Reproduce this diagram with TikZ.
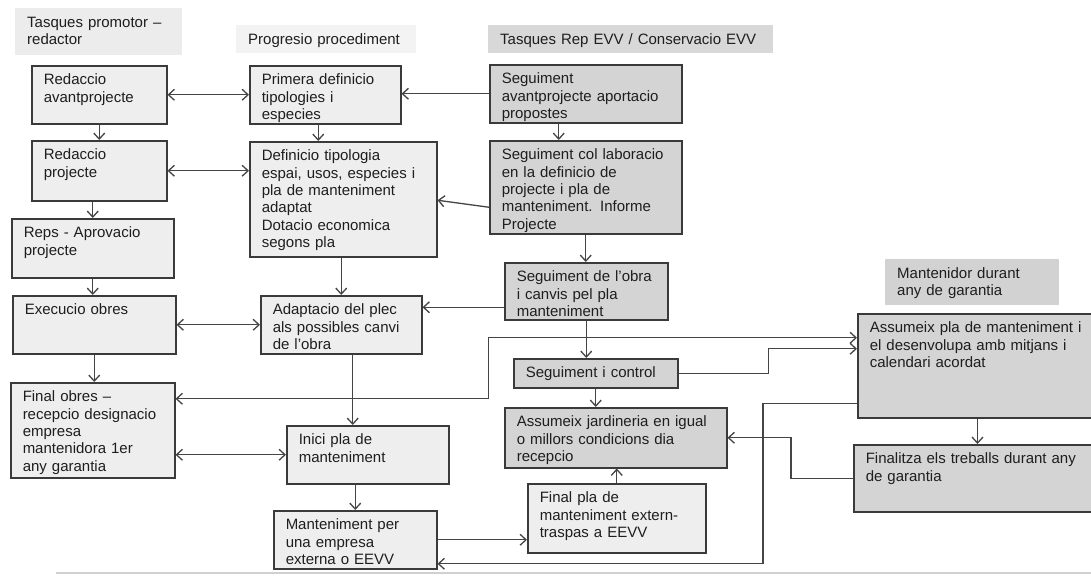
\documentclass[tikz,border=0pt]{standalone}
\usepackage{fontspec}
\setmainfont{Liberation Sans}
\usetikzlibrary{arrows.meta}

\definecolor{lightfill}{HTML}{EEEEEE}
\definecolor{darkfill}{HTML}{D4D4D4}
\definecolor{boxline}{HTML}{3A3A3A}
\definecolor{linegray}{HTML}{454545}
\definecolor{txt}{HTML}{1E1E1E}
\definecolor{headA}{HTML}{ECECEC}
\definecolor{headB}{HTML}{F3F3F3}
\definecolor{headC}{HTML}{D8D8D8}
\definecolor{headD}{HTML}{D2D2D2}
\definecolor{rulegray}{HTML}{D0D0D0}

\tikzset{
    textblock/.style 2 args={anchor=north west,align=left,inner xsep=12pt,inner ysep=0pt,
        text width=#1pt,text height=19pt,text depth=#2pt,
        font=\fontsize{15pt}{17.4pt}\selectfont,text=txt},
    lbox/.style 2 args={textblock={#1}{#2},draw=boxline,line width=1.5pt,fill=lightfill},
    dbox/.style 2 args={textblock={#1}{#2},draw=boxline,line width=1.5pt,fill=darkfill},
    head/.style 2 args={textblock={#1}{#2}},
    link/.style={draw=linegray,line width=1.3pt},
}

\begin{document}
\begin{tikzpicture}[x=1pt,y=-1pt,>={Straight Barb[length=6pt,width=11pt]}]
    \useasboundingbox (0,0) rectangle (1091,576);
    \fill[white] (0,0) rectangle (1091,576);
    \draw
        node[head={143}{28},fill=headA] (hprom) at (15,8) {Tasques promotor –\\redactor}
        node[head={156}{9},fill=headB] (hproc) at (236,25) {Progresio procediment}
        node[head={261}{9},fill=headC] (hrep) at (488,25) {Tasques Rep EVV / Conservacio EVV}
        node[head={150}{27},fill=headD] (hmant) at (885,259) {Mantenidor durant\\any de garantia}

        node[lbox={111}{39}] (redav) at (31,65) {Redaccio\\avantprojecte}
        node[lbox={111}{41}] (redpr) at (31,140) {Redaccio\\projecte}
        node[lbox={138}{40}] (reps) at (11,218) {Reps - Aprovacio\\projecte}
        node[lbox={139}{39}] (exec) at (12,295) {Execucio obres}
        node[lbox={140}{76}] (final) at (10,382) {Final obres –\\recepcio designacio\\empresa\\mantenidora 1er\\any garantia}

        node[lbox={127}{39}] (prim) at (249,65) {Primera definicio\\tipologies i\\especies}
        node[lbox={163}{96}] (defi) at (249,141) {Definicio tipologia\\espai, usos, especies i\\pla de manteniment\\adaptat\\Dotacio economica\\segons pla}
        node[lbox={137}{39}] (adap) at (260,295) {Adaptacio del plec\\als possibles canvi\\de l'obra}
        node[lbox={138}{39}] (inici) at (286,425) {Inici pla de\\manteniment}
        node[lbox={139}{39}] (mant) at (273,510) {Manteniment per\\una empresa\\externa o EEVV}

        node[dbox={168}{39}] (segav) at (489,64) {Seguiment\\avantprojecte aportacio\\propostes}
        node[dbox={168}{74}] (segcol) at (489,140) {Seguiment col laboracio\\en la definicio de\\projecte i pla de\\manteniment. Informe\\Projecte}
        node[dbox={139}{38}] (segobra) at (504,262) {Seguiment de l'obra\\i canvis pel pla\\manteniment}
        node[dbox={140}{10}] (segctl) at (513,358) {Seguiment i control}
        node[dbox={198}{41}] (assjar) at (504,407) {Assumeix jardineria en igual\\o millors condicions dia\\recepcio}
        node[lbox={154}{50}] (finpla) at (527,483) {Final pla de\\manteniment extern-\\traspas a EEVV}

        node[dbox={215}{85}] (asspla) at (857,313) {Assumeix pla de manteniment i\\el desenvolupa amb mitjans i\\calendari acordat}
        node[dbox={215}{48}] (finalitza) at (853,444) {Finalitza els treballs durant any\\de garantia}
    ;
    % left and middle columns
    \draw [link,<->] (redav)-- (prim);
    \draw [link,->] (redav.south)-- (redav.south |- redpr.north);
    \draw [link,->] ([xshift=-7]prim.south)-- ([xshift=-7]prim.south |- defi.north);
    \draw [link,<->] (redpr)-- (redpr -| defi.west);
    \draw [link,->] (reps.north |- redpr.south)-- (reps.north);
    \draw [link,->] (adap.north |- defi.south)-- (adap.north);
    \draw [link,->] (reps.south)-- (reps.south |- exec.north);
    \draw [link,<->] (exec)-- (exec -| adap.west);
    \draw [link,->] (exec.south)-- (exec.south |- final.north);
    \draw [link,->] ([xshift=11.5]adap.south)-- ([xshift=11.5]adap.south |- inici.north);
    \draw [link,<->] (inici.west -| final.east)-- (inici.west);
    \draw [link,->] (mant.north |- inici.south)-- (mant.north);

    % follow-up column
    \draw [link,->] (segav.west)-- (segav.west -| prim.east);
    \draw [link,->] ([xshift=-27]segav.south)-- ([xshift=-27]segav.south |- segcol.north);
    \draw [link,->] ([yshift=-20]segcol.west)-- ([yshift=-1]defi.east);
    \draw [link,->] (segcol.south)-- (segcol.south |- segobra.north);
    \draw [link,->] ([yshift=-16]segobra.west)-- ([yshift=-16]segobra.west -| adap.east);
    \draw [link,->] (segobra.south)-- (segobra.south |- segctl.north);
    \draw [link,->] (segctl.south)-- (segctl.south |- assjar.north);
    \draw [link,->] (finpla.north)-- (finpla.north |- assjar.south);
    \draw [link,->] (mant.east)-- (mant.east -| finpla.west);

    % warranty year
    \draw [link,<->] ([yshift=31.5]final.east)-- ++(313,0) |- ([yshift=28]asspla.west);
    \draw [link,->] (segctl.east)-- ++(90,0) |- ([yshift=17]asspla.west);
    \draw [link,->] ([yshift=-38]asspla.west)-- ++(-94,0) |- ([yshift=-24]mant.east);
    \draw [link,->] ([xshift=120.5]asspla.west |- asspla.south)-- ([xshift=120.5]asspla.west |- finalitza.north);
    \draw [link,->] (finalitza.west)-- ++(-62,0) |- (assjar.east);

    \draw [rulegray,line width=2pt] (56,573)-- (1091,573);
\end{tikzpicture}
\end{document}
